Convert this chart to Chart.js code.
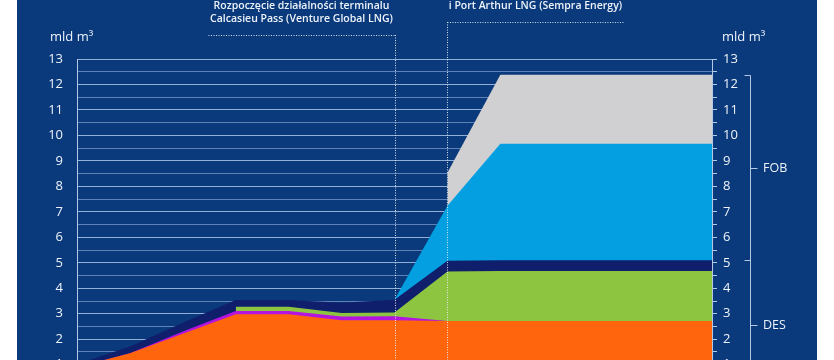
<!DOCTYPE html>
<html><head><meta charset="utf-8">
<script src="https://cdn.jsdelivr.net/npm/chart.js@4"></script>
<style>
html,body{margin:0;padding:0;background:#fff;overflow:hidden}
#wrap{position:relative;width:834px;height:360px;overflow:hidden}
canvas{position:absolute;left:0;top:0}
</style></head><body>
<div id="wrap"><canvas id="c" width="834" height="412"></canvas></div>
<script>
// ---- data (mld m3) ----
const years = ['2016','2017','2018','2019','2020','2021','2022','2023','2024','2025','2026','2027','2028'];
const desOrange = [0.90, 1.45, 2.22, 2.98, 2.98, 2.75, 2.75, 2.72, 2.72, 2.72, 2.72, 2.72, 2.72];
const desPurple = [0.00, 0.00, 0.08, 0.13, 0.13, 0.14, 0.15, 0.00, 0.00, 0.00, 0.00, 0.00, 0.00];
const desGreen  = [null, null, null, 0.17, 0.17, 0.14, 0.15, 1.94, 1.96, 1.96, 1.96, 1.96, 1.96];
const desNavy   = [0.12, 0.27, 0.35, 0.26, 0.26, 0.40, 0.50, 0.42, 0.42, 0.42, 0.42, 0.42, 0.42];
const fobBlue   = [null, null, null, null, null, null, 0.00, 2.16, 4.57, 4.57, 4.57, 4.57, 4.57];
const fobGray   = [null, null, null, null, null, null, null, 1.30, 2.71, 2.71, 2.71, 2.71, 2.71];
const yTicks = {min: 0, max: 13, step: 0.5};
const unitLabel = 'mld m³';
const note1 = ['Rozpoczęcie działalności terminalu', 'Calcasieu Pass (Venture Global LNG)'];
const note2 = ['i Port Arthur LNG (Sempra Energy)'];
const note1Year = '2022';
const note2Year = '2023';
const fobLabel = 'FOB';
const desLabel = 'DES';

// ---- styles ----
const PANEL = '#0a3a7b';
const AXIS = '#b4c8e6';
const GRID_MAJOR = 'rgba(170,196,232,0.85)';
const GRID_MINOR = 'rgba(150,180,225,0.6)';
const TEXT = '#eef3fa';
const FONT = '"Open Sans", "DejaVu Sans", sans-serif';

const sumAt = (i, arrs) => arrs.reduce((s, a) => s + (a[i] || 0), 0);
const lastIdx = years.length - 1;
const desTop = sumAt(lastIdx, [desOrange, desPurple, desGreen, desNavy]);
const fobTop = desTop + sumAt(lastIdx, [fobBlue, fobGray]);

const overlay = {
  id: 'overlay',
  beforeDraw(chart) {
    const ctx = chart.ctx;
    ctx.save();
    ctx.fillStyle = PANEL;
    ctx.fillRect(17, 0, 800, chart.height);
    ctx.restore();
  },
  afterDatasetsDraw(chart) {
    const ctx = chart.ctx, x = chart.scales.x;
    const x1 = x.getPixelForValue(years.indexOf(note1Year));
    const x2 = x.getPixelForValue(years.indexOf(note2Year));
    ctx.save();
    ctx.strokeStyle = 'rgba(235,242,252,0.9)';
    ctx.lineWidth = 1;
    ctx.setLineDash([1, 1.5]);
    ctx.beginPath();
    ctx.moveTo(Math.round(x1) + 0.5, 35); ctx.lineTo(Math.round(x1) + 0.5, chart.height);
    ctx.moveTo(x1 - 186, 35.5); ctx.lineTo(x1, 35.5);
    ctx.moveTo(Math.round(x2) + 0.5, 22); ctx.lineTo(Math.round(x2) + 0.5, chart.height);
    ctx.moveTo(x2, 22.5); ctx.lineTo(x2 + 177, 22.5);
    ctx.stroke();
    ctx.setLineDash([]);
    ctx.fillStyle = TEXT;
    ctx.font = '600 10.5px ' + FONT;
    ctx.textAlign = 'center';
    ctx.textBaseline = 'middle';
    note1.forEach((t, i) => ctx.fillText(t, x1 - 93, 6 + i * 13.5));
    note2.forEach((t, i) => ctx.fillText(t, x2 + 88, 6 + i * 13.5));
    ctx.restore();
  },
  afterDraw(chart) {
    const ctx = chart.ctx, y = chart.scales.y, a = chart.chartArea;
    ctx.save();
    ctx.fillStyle = TEXT;
    ctx.font = '13px ' + FONT;
    ctx.textBaseline = 'middle';
    ctx.textAlign = 'left';
    ctx.fillText(unitLabel, 50, 37);
    ctx.fillText(unitLabel, a.right + 10, 37);
    const bx = 750.5;
    const yTop = Math.round(y.getPixelForValue(fobTop)) + 0.5;
    const yMid = Math.round(y.getPixelForValue(desTop)) + 0.5;
    const yBot = y.getPixelForValue(0);
    ctx.strokeStyle = AXIS;
    ctx.lineWidth = 1;
    ctx.beginPath();
    ctx.moveTo(bx - 6, yTop); ctx.lineTo(bx, yTop); ctx.lineTo(bx, chart.height);
    ctx.moveTo(bx - 6, yMid); ctx.lineTo(bx, yMid);
    const yF = Math.round((yTop + yMid) / 2) + 0.5;
    const yD = Math.round((yMid + yBot) / 2) + 0.5;
    ctx.moveTo(bx, yF); ctx.lineTo(bx + 7, yF);
    ctx.moveTo(bx, yD); ctx.lineTo(bx + 7, yD);
    ctx.stroke();
    ctx.font = '12.5px ' + FONT;
    ctx.fillText(fobLabel, 763, yF);
    ctx.fillText(desLabel, 763, yD);
    ctx.restore();
  }
};

const mk = (label, data, color) => ({
  label, data, backgroundColor: color, borderColor: color, borderWidth: 0,
  pointRadius: 0, pointHoverRadius: 0, fill: 'origin', tension: 0, spanGaps: false
});

const tickCb = v => (Math.abs(v - Math.round(v)) < 1e-6 ? String(Math.round(v)) : '');
const gridColor = c => (c.tick && Math.abs(c.tick.value - Math.round(c.tick.value)) < 1e-6 ? GRID_MAJOR : GRID_MINOR);

new Chart(document.getElementById('c'), {
  type: 'line',
  data: {
    labels: years,
    datasets: [
      mk('DES 1', desOrange, '#ff650c'),
      mk('DES 2', desPurple, '#b414e0'),
      mk('DES 3', desGreen, '#8dc540'),
      mk('DES 4', desNavy, '#0f1f6c'),
      mk('FOB 1', fobBlue, '#039fe0'),
      mk('FOB 2', fobGray, '#d0d0d2')
    ]
  },
  options: {
    responsive: false,
    animation: false,
    events: [],
    layout: { padding: { left: 0, right: 0, top: 59, bottom: 11 } },
    plugins: { legend: { display: false }, tooltip: { enabled: false } },
    scales: {
      x: { display: false, offset: false, stacked: true },
      y: {
        position: 'left', stacked: true, min: yTicks.min, max: yTicks.max,
        afterFit: s => { s.width = 77; },
        ticks: { stepSize: yTicks.step, autoSkip: false, callback: tickCb, color: TEXT, padding: 14, font: { family: FONT, size: 13 } },
        grid: { color: gridColor, lineWidth: 1, drawTicks: false },
        border: { display: true, color: AXIS, width: 1 }
      },
      y2: {
        position: 'right', min: yTicks.min, max: yTicks.max,
        afterFit: s => { s.width = 122; },
        ticks: { stepSize: yTicks.step, autoSkip: false, callback: tickCb, color: TEXT, padding: 6, font: { family: FONT, size: 13 } },
        grid: { drawOnChartArea: false, drawTicks: true, tickLength: 5, color: AXIS },
        border: { display: true, color: AXIS, width: 1 }
      }
    }
  },
  plugins: [overlay]
});
</script>
</body></html>
